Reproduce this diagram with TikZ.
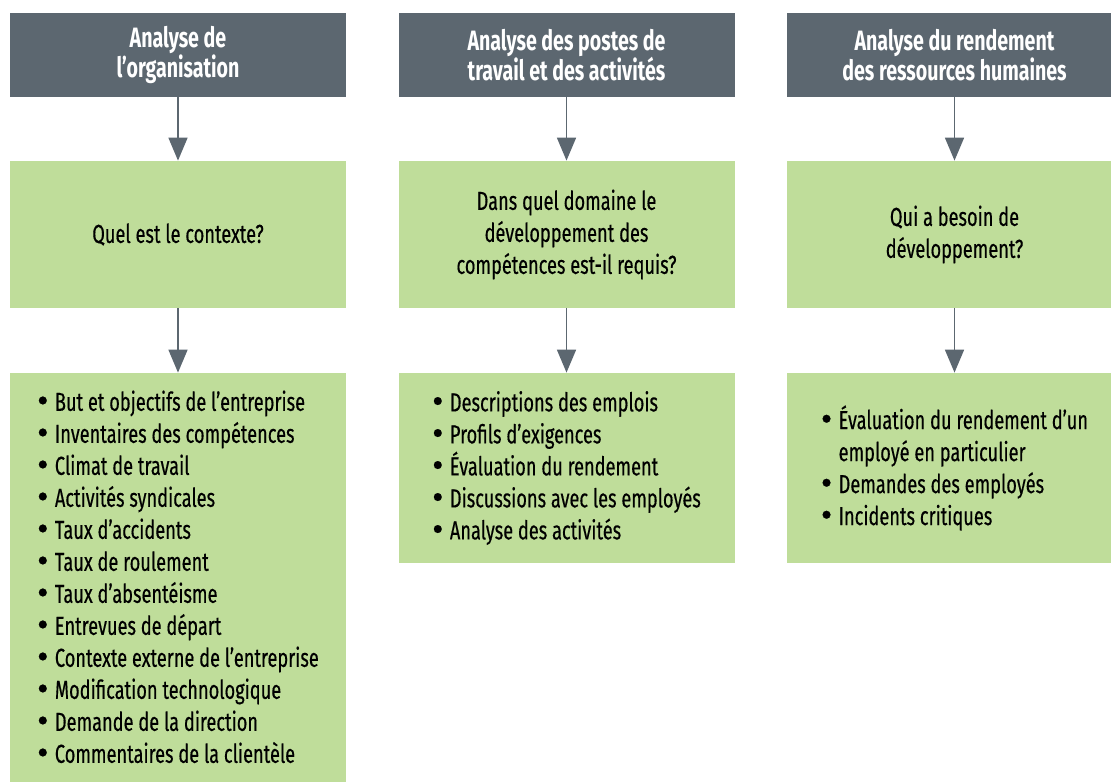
\documentclass[tikz,border=0pt]{standalone}
\usepackage{fontspec}
\setmainfont{Fira Sans}[FakeStretch=0.7, UprightFeatures={FakeBold=0.4}]
\usepackage{xcolor}
\usetikzlibrary{arrows.meta, positioning}

\definecolor{headgray}{HTML}{5C6770}
\definecolor{boxgreen}{HTML}{BFDD9A}
\newcommand{\bul}{\raisebox{-0.12ex}{\scalebox{1.9}[1.35]{\textbullet}}\hspace{0.25em}}

\begin{document}
\begin{tikzpicture}[x=0.5pt, y=-0.5pt,
    head/.style={fill=headgray, text=white, font=\fontsize{14}{15}\selectfont\bfseries,
        align=center, inner sep=0pt, minimum width=168pt, minimum height=41.75pt},
    question/.style={fill=boxgreen, font=\fontsize{13}{16}\selectfont,
        align=center, inner sep=0pt, minimum width=168pt, minimum height=73.5pt},
    items/.style={fill=boxgreen, font=\fontsize{13}{16}\selectfont,
        align=left, inner sep=0pt, minimum width=168pt},
    flow/.style={draw=headgray, line width=0.85pt,
        -{Triangle[width=9.5pt, length=11.5pt]}}]
    \useasboundingbox (0,0) rectangle (1111,782);

    % Headers
    \node[head] (h1) at (178,54.75) {Analyse de\\l’organisation};
    \node[head] (h2) at (566.5,54.75) {Analyse des postes de\\travail et des activités};
    \node[head] (h3) at (954.5,54.75) {Analyse du rendement\\des ressources humaines};

    % Questions
    \node[question] (q1) at (178,234.5) {Quel est le contexte?};
    \node[question] (q2) at (566.5,234.5) {Dans quel domaine le\\développement des\\compétences est-il requis?};
    \node[question] (q3) at (954.5,234.5) {Qui a besoin de\\développement?};

    % Lists
    \node[items, minimum height=204.5pt] (l1) at (178,577.5) {%
        \bul But et objectifs de l’entreprise\\
        \bul Inventaires des compétences\\
        \bul Climat de travail\\
        \bul Activités syndicales\\
        \bul Taux d’accidents\\
        \bul Taux de roulement\\
        \bul Taux d’absentéisme\\
        \bul Entrevues de départ\\
        \bul Contexte externe de l’entreprise\\
        \bul Modification technologique\\
        \bul Demande de la direction\\
        \bul Commentaires de la clientèle};
    \node[items, minimum height=95pt] (l2) at (566.5,468) {%
        \bul Descriptions des emplois\\
        \bul Profils d’exigences\\
        \bul Évaluation du rendement\\
        \bul Discussions avec les employés\\
        \bul Analyse des activités};
    \node[items, minimum height=95pt] (l3) at (954.5,468) {%
        \bul Évaluation du rendement d’un\\
        \phantom{\bul}employé en particulier\\
        \bul Demandes des employés\\
        \bul Incidents critiques};

    % Arrows
    \foreach \c in {1,2,3} {
        \draw[flow] (h\c.south) -- (q\c.north);
        \draw[flow] (q\c.south) -- (l\c.north);
    }
\end{tikzpicture}
\end{document}
